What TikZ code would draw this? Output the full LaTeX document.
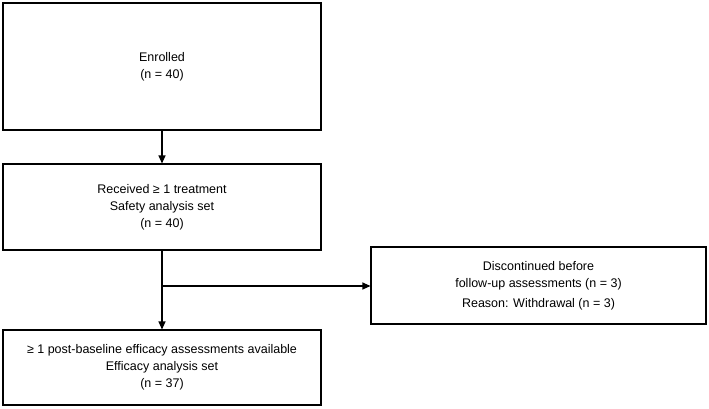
\documentclass[tikz,border=0pt]{standalone}
\usepackage{fontspec}
\setmainfont{Liberation Sans}
\usetikzlibrary{arrows.meta}
\begin{document}
\begin{tikzpicture}[x=1pt,y=-1pt,
  box/.style={draw,line width=1.1pt,inner sep=0pt},
  txt/.style={align=center,font=\fontsize{12.5}{17}\selectfont,inner sep=0pt},
  arr/.style={-{Triangle[length=8pt,width=7pt]},line width=1.1pt}]
\useasboundingbox (0,0) rectangle (709,408);
\node[box,minimum width=318pt,minimum height=127pt] (a) at (162,66.5) {};
\node[txt] (at) at (162,66.5) {Enrolled\\(n = 40)};
\node[box,minimum width=318pt,minimum height=86pt] (b) at (162,207) {};
\node[txt] (bt) at (162,207) {Received ≥ 1 treatment\\Safety analysis set\\(n = 40)};
\node[box,minimum width=335pt,minimum height=77pt] (c) at (538.5,285.5) {};
\node[txt] (ct) at (538.5,285.5) {Discontinued before\\follow-up assessments (n = 3)\\[3pt]Reason: Withdrawal (n = 3)};
\node[box,minimum width=318pt,minimum height=75pt] (d) at (162,367.5) {};
\node[txt] (dt) at (162,367.5) {≥ 1 post-baseline efficacy assessments available\\Efficacy analysis set\\(n = 37)};
\draw[arr] (a.south) -- (b.north);
\draw[arr] (b.south) -- (d.north);
\coordinate (m) at (162,286);
\draw[arr] (m) -- (c.west |- m);
\end{tikzpicture}
\end{document}
